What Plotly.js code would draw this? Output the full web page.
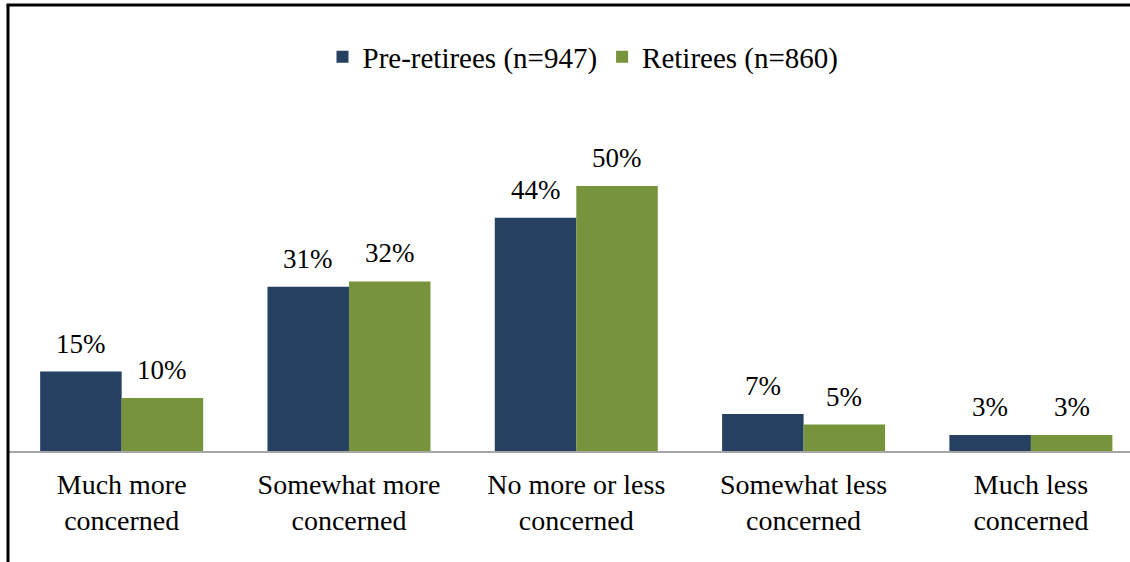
<!DOCTYPE html>
<html>
<head>
<meta charset="utf-8">
<script src="https://cdn.plot.ly/plotly-3.0.1.min.js"></script>
<style>
html,body{margin:0;padding:0;background:#fff;overflow:hidden;}
#chart{width:1130px;height:562px;}
</style>
</head>
<body>
<div id="chart"></div>
<script>
// ---- data ----
const categories = [
  "Much more<br>concerned",
  "Somewhat more<br>concerned",
  "No more or less<br>concerned",
  "Somewhat less<br>concerned",
  "Much less<br>concerned"
];
const seriesNames = ["Pre-retirees (n=947)", "Retirees (n=860)"];
const preRetirees = [15, 31, 44, 7, 3];
const retirees = [10, 32, 50, 5, 3];

// ---- style ----
const navy = "#264061";
const green = "#77933C";
const font = "'Liberation Serif', 'Times New Roman', serif";
const W = 1130, H = 562;
const M = {l: 8, r: 0, t: 133, b: 111};
const plotW = W - M.l - M.r, plotH = H - M.t - M.b;
const bargap = 0.283;
const xIdx = categories.map((c, i) => i);
const groupCenterPx = 121.7 - M.l;    // first group centre, px from plot left
const stepPx = 227.3;
const xMin = -0.5, xMax = (plotW - groupCenterPx) / stepPx;
const pxPerUnit = 5.3;
const yMax = plotH / pxPerUnit;

const half = (1 - bargap) / 4;
const annotations = [];
[preRetirees, retirees].forEach((vals, s) => {
  vals.forEach((v, i) => {
    annotations.push({
      x: i + (s === 0 ? -half : half), y: v, xref: "x", yref: "y",
      text: v + "%", showarrow: false, yanchor: "bottom", yshift: 11,
      font: {family: font, size: 27, color: "#000"}
    });
  });
});

const py = v => (H - M.b - v) / plotH;  // px from top -> paper y
const shapes = [
  {type: "line", xref: "paper", yref: "paper", x0: 0, x1: 0, y0: py(5), y1: py(562 + 5),
   line: {color: "#000", width: 3}},
  {type: "line", xref: "paper", yref: "paper", x0: -0.0013, x1: 1.01, y0: py(5), y1: py(5),
   line: {color: "#000", width: 3}}
];

const traces = [
  {type: "bar", name: seriesNames[0], x: xIdx, y: preRetirees,
   marker: {color: navy}, hoverinfo: "skip"},
  {type: "bar", name: seriesNames[1], x: xIdx, y: retirees,
   marker: {color: green}, hoverinfo: "skip"}
];

const layout = {
  width: W, height: H,
  margin: M,
  paper_bgcolor: "#fff", plot_bgcolor: "#fff",
  barmode: "group", bargap: bargap, bargroupgap: 0,
  showlegend: true,
  legend: {
    orientation: "h", x: (583 - M.l) / plotW, xanchor: "center",
    y: py(57), yanchor: "middle",
    font: {family: font, size: 29, color: "#000"},
    itemwidth: 30, traceorder: "normal", bgcolor: "rgba(0,0,0,0)"
  },
  xaxis: {
    range: [xMin, xMax], tickmode: "array", tickvals: xIdx, ticktext: categories,
    showgrid: false, zeroline: false, showline: true, linecolor: "#A6A6A6", linewidth: 2,
    ticks: "", ticklabelstandoff: 7,
    tickfont: {family: font, size: 28, color: "#000"}, fixedrange: true
  },
  yaxis: {
    range: [0, yMax], visible: false, showgrid: false, zeroline: false, fixedrange: true
  },
  annotations: annotations,
  shapes: shapes
};

Plotly.newPlot("chart", traces, layout, {displayModeBar: false, staticPlot: true});
</script>
</body>
</html>
